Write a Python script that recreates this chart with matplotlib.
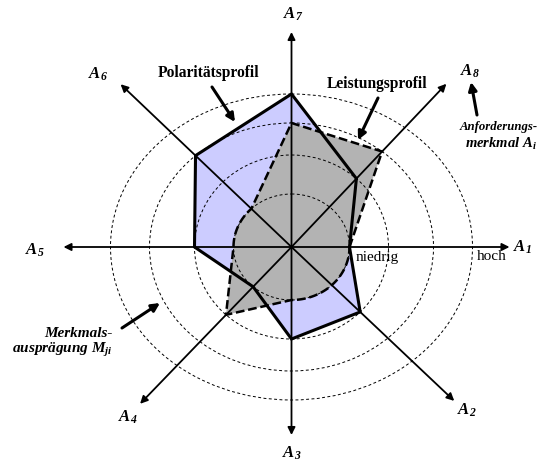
import numpy as np
import matplotlib.pyplot as plt
from matplotlib.patches import Ellipse, Polygon

plt.rcParams['mathtext.fontset'] = 'custom'
plt.rcParams['mathtext.rm'] = 'Liberation Serif'
plt.rcParams['mathtext.it'] = 'Liberation Serif:italic'
plt.rcParams['mathtext.bf'] = 'Liberation Serif:bold'
plt.rcParams['mathtext.bfit'] = 'Liberation Serif:italic:bold'

# Merkmale A1..A8 (Winkel in Grad, Laenge der Achsenpfeile in px)
merkmale = ['1', '2', '3', '4', '5', '6', '7', '8']
achsen_winkel = [0, -43.4, -90, -134, 180, 136.4, 90, 46.5]
achsen_laenge = [218, 224, 188, 218, 228, 236, 215, 225]
label_pos = [(522, 247), (467, 410), (292, 453), (128, 417),
             (35, 250), (98, 74), (293, 14), (470, 71)]

# Ringe (Merkmalsauspraegung 1..4), Halbachsen der Ellipsen
ring_a = [58, 97, 142, 181]
ring_b = [53, 92, 124, 153]

# Profile (Ringstufe je Merkmal A1..A8)
polaritaet = [1, 2, 2, 1, 2, 3, 4, 2]
leistung = [1, 1, 1, 2, 1, 1, 3, 3]

cx, cy = 291.5, 247
FONT = 'Liberation Serif'


def ring_radius(k, phi):
    a, b = ring_a[k - 1], ring_b[k - 1]
    return a * b / np.hypot(b * np.cos(phi), a * np.sin(phi))


def profil_xy(werte):
    pts = []
    for w, wi in zip(werte, achsen_winkel):
        phi = np.radians(wi)
        r = ring_radius(w, phi)
        pts.append((r * np.cos(phi), r * np.sin(phi)))
    return np.array(pts)


def to_px(p):
    return np.column_stack([cx + p[:, 0], cy - p[:, 1]])


def union_mit_kern(pts):
    # Rand von Polygon vereinigt mit innerer Ellipse (sternfoermig um Zentrum)
    phis = np.linspace(0, 2 * np.pi, 1441)
    out = []
    n = len(pts)
    for phi in phis:
        d = np.array([np.cos(phi), np.sin(phi)])
        rp = 0.0
        for i in range(n):
            P = pts[i]
            e = pts[(i + 1) % n] - P
            den = d[0] * e[1] - d[1] * e[0]
            if abs(den) < 1e-12:
                continue
            t = (P[0] * e[1] - P[1] * e[0]) / den
            s = (P[0] * d[1] - P[1] * d[0]) / den
            if t > 0 and -1e-9 <= s <= 1 + 1e-9:
                rp = max(rp, t)
        r = max(rp, ring_radius(1, phi))
        out.append((r * np.cos(phi), r * np.sin(phi)))
    return np.array(out)


fig = plt.figure(figsize=(5.4, 4.62), dpi=100)
ax = fig.add_axes([0, 0, 1, 1])
ax.set_xlim(0, 540)
ax.set_ylim(462, 0)
ax.axis('off')

pol = to_px(profil_xy(polaritaet))
lei = to_px(union_mit_kern(profil_xy(leistung)))

ax.add_patch(Polygon(pol, closed=True, facecolor='#ccccff', edgecolor='none', zorder=1))
ax.add_patch(Polygon(lei, closed=True, facecolor='#b3b3b3', edgecolor='none', zorder=2))

for a, b in zip(ring_a, ring_b):
    ax.add_patch(Ellipse((cx, cy), 2 * a, 2 * b, fill=False, edgecolor='black',
                         lw=0.7, linestyle=(0, (3, 2.5)), zorder=3))

ax.add_patch(Polygon(pol, closed=True, fill=False, edgecolor='black', lw=2.2,
                     joinstyle='miter', zorder=4))
ax.add_patch(Polygon(lei, closed=True, fill=False, edgecolor='black', lw=1.8,
                     linestyle=(0, (3.5, 1.5)), zorder=5))

for m, wi, L, pos in zip(merkmale, achsen_winkel, achsen_laenge, label_pos):
    phi = np.radians(wi)
    tip = (cx + L * np.cos(phi), cy - L * np.sin(phi))
    ax.annotate('', xy=tip, xytext=(cx, cy),
                arrowprops=dict(arrowstyle='-|>', lw=1.3, color='black',
                                mutation_scale=11, shrinkA=0, shrinkB=0),
                zorder=6)
    ax.text(pos[0], pos[1], r'$\mathbfit{A}_{\mathbfit{%s}}$' % m, ha='center',
            va='center', fontsize=12)

pfeil = dict(arrowstyle='-|>', lw=2.2, color='black', mutation_scale=12,
             shrinkA=0, shrinkB=0)

ax.text(208, 73, 'Polaritätsprofil', ha='center', va='center', family=FONT,
        weight='bold', fontsize=11.2)
ax.annotate('', xy=(235, 122), xytext=(212, 87), arrowprops=pfeil)

ax.text(377, 84, 'Leistungsprofil', ha='center', va='center', family=FONT,
        weight='bold', fontsize=11.2)
ax.annotate('', xy=(358, 140), xytext=(378, 98), arrowprops=pfeil)

ax.text(538, 127, 'Anforderungs-', ha='right', va='center', family=FONT,
        weight='bold', style='italic', fontsize=9.2)
ax.text(465, 144, 'merkmal $\\mathbfit{A}_{\\mathbfit{i}}$', ha='left',
        va='center', family=FONT, weight='bold', style='italic', fontsize=10.5)
ax.annotate('', xy=(471, 82), xytext=(477, 115), arrowprops=pfeil)

ax.text(113, 343, 'Merkmals-\nausprägung $\\mathbfit{M}_{\\mathbfit{ji}}$', ha='right',
        va='center', family=FONT, weight='bold', style='italic', fontsize=11,
        multialignment='right', linespacing=1.05)
ax.annotate('', xy=(160, 303), xytext=(122, 328), arrowprops=pfeil)

ax.text(356, 258, 'niedrig', ha='left', va='center', family=FONT, fontsize=11)
ax.text(477, 257, 'hoch', ha='left', va='center', family=FONT, fontsize=11)

fig.savefig('out.png', dpi=100)
